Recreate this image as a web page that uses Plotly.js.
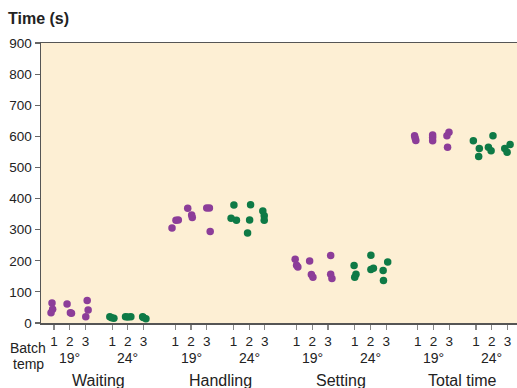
<!DOCTYPE html>
<html>
<head>
<meta charset="utf-8">
<script src="https://cdn.plot.ly/plotly-3.0.1.min.js"></script>
<style>
  html, body { margin: 0; padding: 0; background: #ffffff; }
  #chart { width: 517px; height: 388px; }
</style>
</head>
<body>
<div id="chart"></div>
<script>
// Process stages, batch temperatures and batch numbers
const categories = ['Waiting', 'Handling', 'Setting', 'Total time'];
const temps = ['19°', '24°'];
const batches = ['1', '2', '3'];

// Measured times (s): [stage][batch][run]
const times19 = [
  [[64, 44, 33], [61, 33, 31], [72, 42, 20]],
  [[305, 330, 331], [369, 347, 339], [370, 370, 294]],
  [[205, 186, 180], [199, 156, 147], [217, 157, 143]],
  [[602, 587, 594], [604, 586, 596], [613, 602, 565]]
];
const times24 = [
  [[20, 15, 17], [20, 20, 19], [20, 14, 18]],
  [[379, 337, 330], [380, 331, 289], [360, 345, 330]],
  [[185, 157, 147], [218, 176, 172], [196, 169, 137]],
  [[586, 561, 535], [602, 565, 554], [561, 574, 549]]
];

// Horizontal spread of the runs around each batch position
const jitter19 = [
  [[-0.13, -0.09, -0.19], [-0.17, 0.04, 0.11], [0.11, 0.17, 0.02]],
  [[-0.21, 0.04, 0.19], [-0.21, 0.04, 0.08], [0.0, 0.17, 0.22]],
  [[-0.09, 0.0, 0.08], [-0.17, -0.06, 0.04], [0.17, 0.17, 0.25]],
  [[-0.21, -0.13, -0.17], [-0.06, -0.06, -0.06], [-0.02, -0.15, -0.11]]
];
const jitter24 = [
  [[-0.15, 0.11, -0.03], [-0.15, 0.19, 0.0], [-0.06, 0.15, -0.02]],
  [[0.03, -0.15, 0.19], [0.09, 0.03, -0.1], [-0.13, -0.04, -0.04]],
  [[-0.04, 0.08, 0.0], [0.03, 0.19, 0.03], [0.1, -0.19, -0.17]],
  [[-0.17, 0.21, 0.17], [0.08, -0.21, -0.04], [-0.17, 0.17, -0.02]]
];

const colors = ['#8c3d99', '#0e7a46'];

// Axis position of a batch within a stage/temperature group
const STAGE_STEP = 7.72;
const TEMP_STEP = 3.7;
function batchPos(c, t, b) { return c * STAGE_STEP + t * TEMP_STEP + b; }

function buildTrace(times, jitter, t) {
  const x = [], y = [];
  times.forEach((stage, c) => {
    stage.forEach((runs, b) => {
      runs.forEach((v, r) => {
        x.push(batchPos(c, t, b) + jitter[c][b][r]);
        y.push(v);
      });
    });
  });
  return {
    type: 'scatter', mode: 'markers', x: x, y: y,
    name: temps[t],
    marker: { color: colors[t], size: 7.5, line: { width: 0 } },
    hoverinfo: 'y', showlegend: false
  };
}

const tickvals = [], ticktext = [];
categories.forEach((_, c) => temps.forEach((_, t) => batches.forEach((lab, b) => {
  tickvals.push(batchPos(c, t, b));
  ticktext.push(lab);
})));

const font = 'Liberation Sans, Arial, Helvetica, sans-serif';
const annotations = [];
categories.forEach((name, c) => {
  temps.forEach((tl, t) => {
    annotations.push({
      text: tl, xref: 'x', yref: 'paper', x: batchPos(c, t, 1), y: 0,
      xanchor: 'center', yanchor: 'middle', yshift: -35, showarrow: false,
      font: { family: font, size: 14, color: '#222' }
    });
  });
  annotations.push({
    text: name, xref: 'x', yref: 'paper',
    x: (batchPos(c, 0, 0) + batchPos(c, 1, 2)) / 2, y: 0,
    xanchor: 'center', yanchor: 'middle', yshift: -57, showarrow: false,
    font: { family: font, size: 16, color: '#222' }
  });
});
annotations.push({
  text: 'Batch', xref: 'paper', yref: 'paper', x: 0, y: 0, xshift: -13,
  xanchor: 'center', yanchor: 'middle', yshift: -25, showarrow: false,
  font: { family: font, size: 14, color: '#222' }
});
annotations.push({
  text: 'temp', xref: 'paper', yref: 'paper', x: 0, y: 0, xshift: -13,
  xanchor: 'center', yanchor: 'middle', yshift: -41, showarrow: false,
  font: { family: font, size: 14, color: '#222' }
});

const layout = {
  width: 517, height: 388,
  margin: { l: 41, r: 0, t: 43, b: 65 },
  paper_bgcolor: '#ffffff',
  plot_bgcolor: '#fdefd4',
  title: {
    text: '<b>Time (s)</b>', xref: 'container', yref: 'container',
    x: 8 / 517, xanchor: 'left', y: 1 - 18 / 388, yanchor: 'middle',
    font: { family: font, size: 16, color: '#222' }
  },
  xaxis: {
    range: [-0.83, 29.47], tickvals: tickvals, ticktext: ticktext,
    showgrid: false, zeroline: false, showline: true, mirror: true,
    linecolor: '#555', linewidth: 1.5,
    ticks: 'outside', ticklen: 5, tickwidth: 1.2, tickcolor: '#888',
    tickfont: { family: font, size: 13.5, color: '#222' }, fixedrange: true
  },
  yaxis: {
    range: [0, 900], dtick: 100, tick0: 0,
    showgrid: false, zeroline: false, showline: true,
    linecolor: '#555', linewidth: 1.5,
    ticks: 'outside', ticklen: 5, tickwidth: 1.2, tickcolor: '#666',
    tickfont: { family: font, size: 13.5, color: '#222' }, fixedrange: true
  },
  annotations: annotations
};

Plotly.newPlot('chart', [buildTrace(times19, jitter19, 0), buildTrace(times24, jitter24, 1)], layout,
  { displayModeBar: false, staticPlot: true });
</script>
</body>
</html>
